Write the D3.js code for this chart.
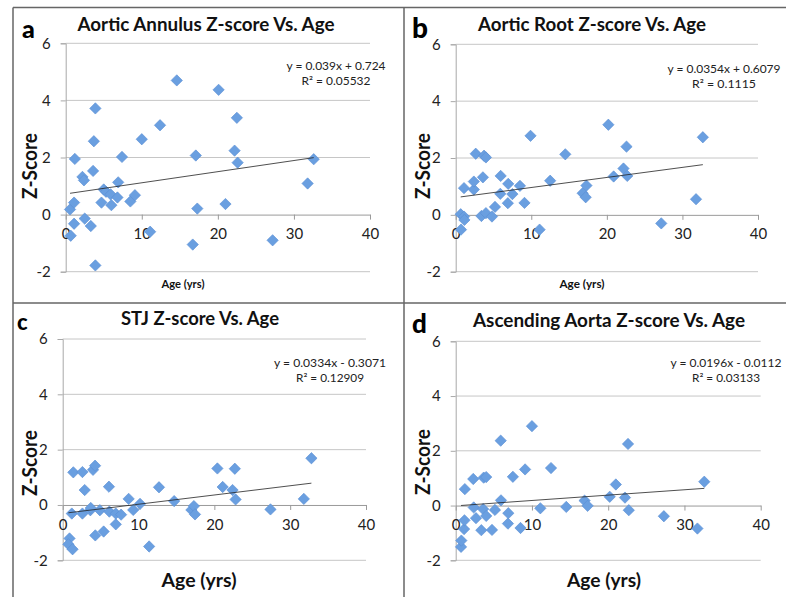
<html>
<head>
<meta charset="utf-8">
<style>
  body { margin: 0; background: #fff; }
  svg { display: block; }
  text { font-family: Lato, "Open Sans", sans-serif; }
</style>
</head>
<body>
<svg id="chart"></svg>
<script src="https://d3js.org/d3.v7.min.js"></script>
<script>
    var width = 786, height = 597;

    // values
    var xTicks = [0, 10, 20, 30, 40];
    var yTicks = [-2, 0, 2, 4, 6];

    var ageA = [0.66, 0.57, 1.1, 1.1, 1.2, 2.2, 2.4, 2.5, 3.3, 3.6, 3.7, 3.9, 3.9, 4.7, 5.0, 5.3, 6.0, 5.9, 6.8, 6.9, 7.4, 8.5, 9.1, 10.0, 11.1, 12.4, 14.6, 16.7, 17.1, 17.3, 20.1, 21.0, 22.2, 22.5, 22.6, 27.2, 31.8, 32.6];
    var zA   = [-0.74, 0.18, 0.42, -0.32, 1.95, 1.32, 1.2, -0.14, -0.4, 1.53, 2.57, 3.72, -1.78, 0.42, 0.88, 0.8, 0.33, 0.71, 0.6, 1.13, 2.02, 0.46, 0.68, 2.64, -0.6, 3.13, 4.7, -1.05, 2.07, 0.21, 4.37, 0.37, 2.24, 3.39, 1.82, -0.9, 1.09, 1.94];

    var ageB = [0.66, 0.7, 1.1, 1.1, 1.15, 2.4, 2.4, 2.65, 3.4, 3.6, 3.75, 4.0, 4.0, 4.8, 5.2, 5.95, 5.9, 6.9, 6.95, 7.5, 8.5, 9.1, 9.9, 11.1, 12.5, 14.5, 16.8, 17.2, 17.3, 20.2, 20.9, 22.2, 22.6, 22.7, 27.2, 31.8, 32.7];
    var zB   = [0.02, -0.52, -0.06, 0.94, -0.18, 0.89, 1.17, 2.15, -0.04, 1.32, 2.08, 2.02, 0.06, -0.06, 0.28, 1.37, 0.74, 0.41, 1.09, 0.73, 1.02, 0.42, 2.78, -0.52, 1.2, 2.13, 0.76, 0.62, 1.03, 3.17, 1.35, 1.63, 2.4, 1.37, -0.3, 0.55, 2.73];

    var ageC = [0.9, 0.75, 1.3, 1.2, 1.4, 2.6, 2.6, 2.9, 3.65, 3.7, 4.0, 4.27, 4.3, 4.9, 5.4, 6.1, 6.15, 7.0, 7.0, 7.7, 8.7, 9.3, 10.2, 11.4, 12.7, 14.7, 16.97, 17.3, 17.45, 20.4, 21.1, 22.4, 22.7, 22.8, 27.4, 31.8, 32.8];
    var zC   = [-1.21, -1.42, -1.6, -0.31, 1.18, 1.19, -0.31, 0.54, -0.19, -0.11, 1.27, 1.42, -1.1, -0.19, -0.96, 0.66, -0.24, -0.31, -0.7, -0.35, 0.22, -0.18, 0.04, -1.5, 0.64, 0.14, -0.18, -0.04, -0.34, 1.32, 0.65, 0.54, 1.31, 0.2, -0.16, 0.22, 1.69];

    var ageD = [0.7, 0.74, 1.1, 1.15, 1.2, 2.3, 2.36, 2.66, 3.36, 3.6, 3.67, 4.0, 4.0, 4.76, 5.15, 5.9, 5.94, 6.9, 6.85, 7.5, 8.5, 9.1, 10.0, 11.1, 12.5, 14.5, 16.9, 17.3, 20.2, 21.0, 22.2, 22.6, 22.7, 27.3, 31.7, 32.6];
    var zD   = [-1.51, -1.28, -0.86, -0.54, 0.6, 0.97, -0.07, -0.46, -0.9, -0.13, 1.02, 1.04, -0.38, -0.89, -0.16, 2.37, 0.19, -0.28, -0.66, 1.05, -0.82, 1.32, 2.9, -0.1, 1.37, -0.05, 0.18, -0.01, 0.32, 0.77, 0.29, 2.25, -0.17, -0.39, -0.84, 0.87];

    // trend lines: [slope, intercept]
    var fitA = [0.039, 0.724], fitB = [0.0354, 0.6079], fitC = [0.0334, -0.3071], fitD = [0.0196, -0.0112];
    var eqA = ["y = 0.039x + 0.724", "R\u00b2 = 0.05532"];
    var eqB = ["y = 0.0354x + 0.6079", "R\u00b2 = 0.1115"];
    var eqC = ["y = 0.0334x - 0.3071", "R\u00b2 = 0.12909"];
    var eqD = ["y = 0.0196x - 0.0112", "R\u00b2 = 0.03133"];

    var panels = [
        {letter: "a", title: "Aortic Annulus Z-score Vs. Age", ages: ageA, z: zA, fit: fitA, eq: eqA,
         x: [65.7, 370], y: [271.7, 43.3], lx: 22, ly: 38, ls: 25, tx: 206, ty: 31, tw: 257,
         ex: 336, ey: 70, ew: 99, r2w: 69, zx: 37, zy: 166, ax: 183, ay: 288, as: 11.5, aw: 43},
        {letter: "b", title: "Aortic Root Z-score Vs. Age", ages: ageB, z: zB, fit: fitB, eq: eqB,
         x: [455.7, 758], y: [271.7, 44.3], lx: 412, ly: 38, ls: 28, tx: 592, ty: 31, tw: 228,
         ex: 724, ey: 73, ew: 113, r2w: 64, zx: 430, zy: 166, ax: 582, ay: 288, as: 11.5, aw: 45},
        {letter: "c", title: "STJ Z-score Vs. Age", ages: ageC, z: zC, fit: fitC, eq: eqC,
         x: [62.7, 366], y: [560.3, 339], lx: 17, ly: 330, ls: 22, tx: 200, ty: 325, tw: 158,
         ex: 330, ey: 367, ew: 112, r2w: 68, zx: 37, zy: 463, ax: 199, ay: 587, as: 19, aw: 75},
        {letter: "d", title: "Ascending Aorta Z-score Vs. Age", ages: ageD, z: zD, fit: fitD, eq: eqD,
         x: [455.7, 760.7], y: [560.3, 341.3], lx: 412, ly: 333, ls: 26, tx: 609, ty: 327, tw: 272,
         ex: 726, ey: 367, ew: 111, r2w: 68, zx: 430, zy: 462, ax: 604, ay: 587, as: 19, aw: 74}
    ];

    var svg = d3.select("#chart")
        .attr("width", width)
        .attr("height", height);

    // frame and dividers
    var frame = svg.append("g").attr("stroke", "#666").attr("stroke-width", 1.5);
    frame.append("line").attr("x1", 13).attr("y1", 7.5).attr("x2", 13).attr("y2", height);
    frame.append("line").attr("x1", 13).attr("y1", 7.5).attr("x2", width).attr("y2", 7.5);
    frame.append("line").attr("x1", 404).attr("y1", 7.5).attr("x2", 404).attr("y2", height);
    frame.append("line").attr("x1", 13).attr("y1", 303).attr("x2", width).attr("y2", 303);

    var diamond = d3.symbol().type(d3.symbolSquare).size(64);
    var plain = function(d) { return String(d); };   // hyphen minus like the original

    panels.forEach(function(p) {
        var x = d3.scaleLinear().domain([0, 40]).range(p.x);
        var y = d3.scaleLinear().domain([-2, 6]).range(p.y);
        var g = svg.append("g");

        // gridlines
        g.selectAll("line.grid")
            .data(yTicks.filter(function(t) { return t !== 0; }))
            .enter().append("line")
            .attr("class", "grid")
            .attr("x1", x(0)).attr("x2", x(40))
            .attr("y1", function(d) { return y(d); })
            .attr("y2", function(d) { return y(d); })
            .attr("stroke", "#c6c6c6")
            .attr("stroke-width", 1);

        // y axis
        var yAxis = g.append("g")
            .attr("transform", "translate(" + x(0) + ",0)")
            .call(d3.axisLeft(y).tickValues(yTicks).tickFormat(plain).tickSize(5).tickPadding(10));
        yAxis.select(".domain").attr("stroke", "#a8a8a8");
        yAxis.selectAll(".tick line").attr("stroke", "#a8a8a8");
        yAxis.selectAll("text").attr("fill", "#222").style("font-size", "15px").style("font-family", "Lato, sans-serif");

        // x axis sitting on zero
        var xAxis = g.append("g")
            .attr("transform", "translate(0," + y(0) + ")")
            .call(d3.axisBottom(x).tickValues(xTicks).tickFormat(plain).tickSize(5).tickPadding(9).tickSizeOuter(0));
        xAxis.select(".domain").attr("stroke", "#9a9a9a");
        xAxis.selectAll(".tick line").attr("stroke", "#9a9a9a");
        xAxis.selectAll("text").attr("fill", "#222").style("font-size", "15px").style("font-family", "Lato, sans-serif");

        // points
        g.selectAll("path.pt")
            .data(p.ages.map(function(a, i) { return [a, p.z[i]]; }))
            .enter().append("path")
            .attr("class", "pt")
            .attr("d", diamond)
            .attr("transform", function(d) {
                return "translate(" + x(d[0]) + "," + y(d[1]) + ") rotate(45)";
            })
            .attr("fill", "#6a9fe0")
            .attr("stroke", "#5b8fd4")
            .attr("stroke-width", 0.6);

        // trend line
        var x0 = d3.min(p.ages), x1 = d3.max(p.ages);
        g.append("line")
            .attr("x1", x(x0)).attr("y1", y(p.fit[0] * x0 + p.fit[1]))
            .attr("x2", x(x1)).attr("y2", y(p.fit[0] * x1 + p.fit[1]))
            .attr("stroke", "#222")
            .attr("stroke-width", 0.8);

        // equation
        g.append("text")
            .attr("x", p.ex).attr("y", p.ey)
            .attr("text-anchor", "middle")
            .attr("textLength", p.ew).attr("lengthAdjust", "spacingAndGlyphs")
            .style("font-size", "11.5px").attr("fill", "#222")
            .text(p.eq[0]);
        g.append("text")
            .attr("x", p.ex).attr("y", p.ey + 15)
            .attr("text-anchor", "middle")
            .attr("textLength", p.r2w).attr("lengthAdjust", "spacingAndGlyphs")
            .style("font-size", "11.5px").attr("fill", "#222")
            .text(p.eq[1]);

        // title
        g.append("text")
            .attr("x", p.tx).attr("y", p.ty)
            .attr("text-anchor", "middle")
            .attr("textLength", p.tw).attr("lengthAdjust", "spacingAndGlyphs")
            .style("font-size", "18px").style("font-weight", "bold").attr("fill", "#111")
            .text(p.title);

        // panel letter
        g.append("text")
            .attr("x", p.lx).attr("y", p.ly)
            .style("font-size", p.ls + "px").style("font-weight", "900").attr("fill", "#000")
            .text(p.letter);

        // y label
        g.append("text")
            .attr("transform", "translate(" + p.zx + "," + p.zy + ") rotate(-90)")
            .attr("text-anchor", "middle")
            .attr("textLength", 66).attr("lengthAdjust", "spacingAndGlyphs")
            .style("font-size", "20px").style("font-weight", "bold").attr("fill", "#111")
            .text("Z-Score");

        // x label
        g.append("text")
            .attr("x", p.ax).attr("y", p.ay)
            .attr("text-anchor", "middle")
            .attr("textLength", p.aw).attr("lengthAdjust", "spacingAndGlyphs")
            .style("font-size", p.as + "px").style("font-weight", "bold").attr("fill", "#111")
            .text("Age (yrs)");
    });
</script>
</body>
</html>
